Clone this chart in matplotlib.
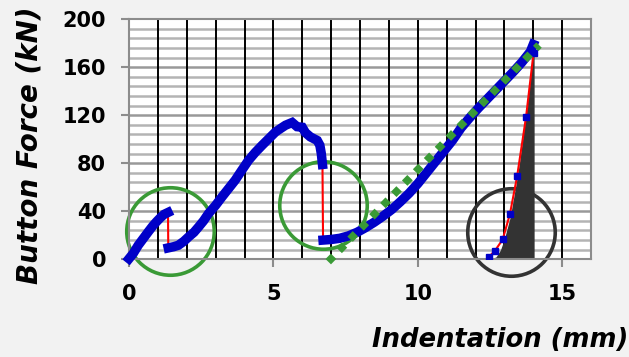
import matplotlib
matplotlib.use("Agg")
import matplotlib.pyplot as plt
from matplotlib.ticker import MultipleLocator

# loading curve, split where the button slips and the force drops
slip1_mm = [0.0, 0.15, 0.32, 0.5, 0.67, 0.83, 0.96, 1.1, 1.22, 1.35]
slip1_kn = [0.5, 5, 11.7, 17.5, 23, 28, 31.5, 35, 37.5, 39]

slip2_mm = [1.36, 1.55, 1.71, 1.9, 2.06, 2.25, 2.41, 2.58, 2.75, 3.0, 3.22,
            3.45, 3.68, 3.9, 4.14, 4.37, 4.61, 4.84, 5.07, 5.25, 5.42, 5.55,
            5.65, 5.82, 6.0, 6.11, 6.28, 6.52, 6.61, 6.66, 6.70]
slip2_kn = [9.5, 10.5, 11.7, 15, 18.6, 22.5, 27, 32, 38, 45, 52,
            59, 66, 74, 82.5, 89, 95, 100.5, 106, 109, 111.7, 113,
            114, 110.5, 110, 105.5, 102, 99, 95, 88, 79]

final_mm = [6.72, 7.0, 7.3, 7.6, 7.9, 8.2, 8.5, 8.8, 9.1, 9.4, 9.7, 10.0,
            10.3, 10.6, 10.9, 11.2, 11.5, 11.8, 12.1, 12.4, 12.7, 13.0,
            13.3, 13.6, 13.9, 14.0]
final_kn = [16, 16.5, 17.5, 19.5, 22.5, 26.5, 31, 36, 41.5, 48, 55, 63,
            72, 81, 90, 99, 109.5, 118, 126, 133.5, 141, 148.5,
            156, 164, 173, 179]

# unloading branch (sparse readings)
unload_mm = [14.01, 13.75, 13.44, 13.19, 12.94, 12.67, 12.45]
unload_kn = [172, 118.6, 69, 37.5, 16.5, 7, 1.7]

# energy area under the unloading branch
area_mm = [12.5, 12.71, 12.86, 13.0, 13.2, 13.4, 13.52, 13.67, 13.81, 13.95, 14.03]
area_kn = [0, 2, 7.5, 17, 35, 62, 80, 107, 135, 163, 180]
area_right_mm = 14.03

# linear stiffness fit of the final loading stage
fit_mm = [6.9, 14.2]
fit_kn = [-2, 178.5]

# highlighted regions
circle_mm = [1.41, 6.72, 13.23]
circle_kn = [23.7, 45, 22.7]

GREEN = "#3a9a36"
BLUE = "#0000c8"
DARK = "#333333"

fig = plt.figure(figsize=(6.29, 3.57), dpi=100, facecolor="#f2f2f2")
ax = fig.add_axes([0.2051, 0.2737, 0.7345, 0.6723])
ax.set_facecolor("white")

ax.set_xlim(0, 16)
ax.set_ylim(0, 200)
ax.set_xticks([0, 5, 10, 15])
ax.set_yticks(range(0, 201, 40))
ax.xaxis.set_minor_locator(MultipleLocator(1))
ax.yaxis.set_minor_locator(MultipleLocator(8))

# horizontal rules drawn as plain lines so the black verticals sit on top
ax.set_axisbelow(True)
for kn in range(8, 200, 8):
    major = kn % 40 == 0
    ax.axhline(kn, color="#999999" if major else "#b4b4b4", lw=1.8,
               zorder=0.2)
ax.grid(axis="x", which="both", color="black", lw=1.4)

for side in ax.spines.values():
    side.set_color("#8c8c8c")
    side.set_linewidth(1.5)

ax.tick_params(which="major", direction="out", color="#8c8c8c", width=1.5,
               length=5.5, labelsize=15)
ax.tick_params(axis="x", which="major", pad=12)
ax.tick_params(axis="y", which="major", pad=11)
ax.tick_params(which="minor", length=0)
for lbl in ax.get_xticklabels() + ax.get_yticklabels():
    lbl.set_fontweight("bold")

for cx, cy, col in zip(circle_mm, circle_kn, [GREEN, GREEN, DARK]):
    ax.plot([cx], [cy], marker="o", ms=63, mfc="none", mec=col, mew=2.6,
            clip_on=False, zorder=1)

ax.fill_betweenx(area_kn, area_mm, area_right_mm, color=DARK, lw=0, zorder=2)

all_mm = slip1_mm + slip2_mm + final_mm + unload_mm
all_kn = slip1_kn + slip2_kn + final_kn + unload_kn
ax.plot(all_mm, all_kn, color="red", lw=1.5, zorder=3)

for xs, ys in [(slip1_mm, slip1_kn), (slip2_mm, slip2_kn), (final_mm, final_kn)]:
    ax.plot(xs, ys, color=BLUE, lw=6.8, solid_capstyle="projecting",
            solid_joinstyle="miter", zorder=4, clip_on=False)
ax.plot(unload_mm, unload_kn, ls="none", marker="s", ms=4.5, color=BLUE,
        zorder=4)

ax.plot(fit_mm, fit_kn, color=GREEN, lw=5.5, ls=(0, (1, 1.05)),
        dash_capstyle="butt", clip_on=False, zorder=5)

fig.text(30 / 629, 0.594, "Button Force (kN)", rotation=90, ha="center",
         va="center", fontsize=20, fontweight="bold", fontstyle="italic")
fig.text(628 / 629, 0.029, "Indentation (mm)", ha="right", va="baseline",
         fontsize=18.6, fontweight="bold", fontstyle="italic")

fig.savefig("out.png", dpi=100, facecolor=fig.get_facecolor())
